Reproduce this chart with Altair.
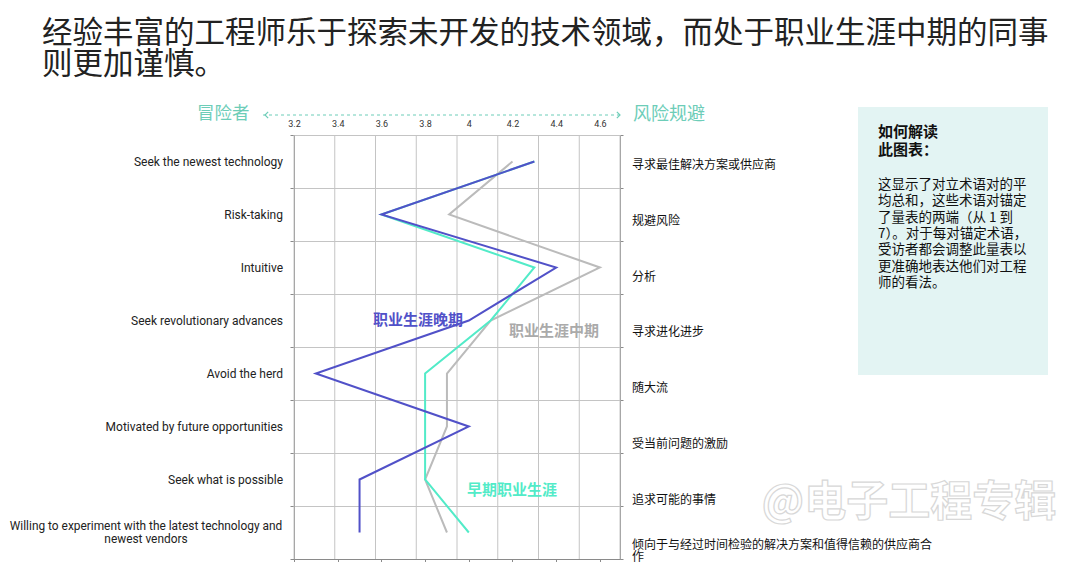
import altair as alt
import pandas as pd

# ---------------- data ----------------
categories = [
    "Seek the newest technology",
    "Risk-taking",
    "Intuitive",
    "Seek revolutionary advances",
    "Avoid the herd",
    "Motivated by future opportunities",
    "Seek what is possible",
    "Willing to experiment with the latest technology and newest vendors",
]
right_labels = [
    "寻求最佳解决方案或供应商",
    "规避风险",
    "分析",
    "寻求进化进步",
    "随大流",
    "受当前问题的激励",
    "追求可能的事情",
    "倾向于与经过时间检验的解决方案和值得信赖的供应商合\n作",
]
late_career = [4.30, 3.60, 4.40, 4.00, 3.30, 4.00, 3.50, 3.50]
mid_career = [4.20, 3.91, 4.60, 4.10, 3.90, 3.90, 3.80, 3.90]
early_career = [4.30, 3.60, 4.30, 4.10, 3.80, 3.80, 3.80, 4.00]
x_ticks = [3.2, 3.4, 3.6, 3.8, 4.0, 4.2, 4.4, 4.6]

title_lines = ["经验丰富的工程师乐于探索未开发的技术领域，而处于职业生涯中期的同事", "则更加谨慎。"]
info_title = ["如何解读", "此图表："]
info_body = [
    "这显示了对立术语对的平",
    "均总和，这些术语对锚定",
    "了量表的两端（从 1 到",
    "7）。对于每对锚定术语，",
    "受访者都会调整此量表以",
    "更准确地表达他们对工程",
    "师的看法。",
]

# ---------------- style ----------------
CJK = "Noto Sans CJK SC"
LAT = "Roboto"
PURPLE = "#5151C8"
TEAL = "#52EBC8"
GRAY = "#BBBBBB"
ACCENT = "#6DCDB8"
GRID = "#C4C4C4"
AXC = "#8A8A8A"

W, H = 326, 424
X_MIN, X_MAX = 3.2, 4.692

xscale = alt.Scale(domain=[X_MIN, X_MAX], nice=False, zero=False)
yscale = alt.Scale(type="band", domain=categories, paddingInner=0, paddingOuter=0)

top_axis = alt.Axis(orient="top", values=x_ticks, format=".1~f", ticks=False, domain=False,
                    grid=False, labelFont=LAT, labelFontSize=9, labelColor="#333",
                    labelPadding=7, labelFlush=False, title=None)
bottom_axis = alt.Axis(orient="bottom", values=x_ticks, labels=False, ticks=True, tickSize=4,
                       tickColor=AXC, domain=True, domainColor=AXC, grid=False, title=None)
left_axis = alt.Axis(orient="left", labels=False, tickBand="extent", ticks=True, tickSize=4,
                     tickColor=AXC, domainColor=AXC, grid=True, gridColor=GRID, title=None)
right_axis = alt.Axis(orient="right", labels=False, tickBand="extent", ticks=True, tickSize=3,
                      tickColor=AXC, domainColor=AXC, grid=False, title=None)

one = pd.DataFrame({"k": [0]})


def note(text, x, y, **kw):
    return alt.Chart(one).mark_text(text=text, **kw).encode(x=alt.value(x), y=alt.value(y))


layers = []

# vertical grid lines (8 equal columns across the plot)
grid_df = pd.DataFrame({"gx": [X_MIN + k * (X_MAX - X_MIN) / 8 for k in range(9)]})
layers.append(
    alt.Chart(grid_df).mark_rule(color=GRID, strokeWidth=1).encode(
        x=alt.X("gx:Q", scale=xscale, axis=bottom_axis)
    )
)

cat_df = pd.DataFrame({"cat": categories, "idx": list(range(len(categories)))})

# right axis ticks
layers.append(
    alt.Chart(cat_df).mark_point(opacity=0).encode(
        y=alt.Y("cat:N", scale=yscale, axis=right_axis)
    )
)

# lines
series = [("职业生涯中期", mid_career, GRAY), ("早期职业生涯", early_career, TEAL),
          ("职业生涯晚期", late_career, PURPLE)]
for i, (name, vals, col) in enumerate(series):
    df = pd.DataFrame({"cat": categories, "idx": list(range(len(categories))), "value": vals,
                       "series": name})
    layers.append(
        alt.Chart(df).mark_line(color=col, strokeWidth=2).encode(
            x=alt.X("value:Q", scale=xscale, axis=top_axis if i == 0 else None),
            y=alt.Y("cat:N", scale=yscale, axis=left_axis if i == 0 else None),
            order="idx:Q",
        )
    )

# series labels
layers.append(note("职业生涯晚期", 169, 185, font=CJK, fontSize=15, fontWeight="bold",
                   color=PURPLE, align="right", baseline="middle"))
layers.append(note("职业生涯中期", 215, 196, font=CJK, fontSize=15, fontWeight="bold",
                   color="#AAAAAA", align="left", baseline="middle"))
layers.append(note("早期职业生涯", 173, 355, font=CJK, fontSize=15, fontWeight="bold",
                   color=TEAL, align="left", baseline="middle"))

# left labels
left_df = cat_df.iloc[:-1]
layers.append(
    alt.Chart(left_df).mark_text(font=LAT, fontSize=12, color="#222", align="right",
                                 baseline="middle").encode(
        x=alt.value(-11), y=alt.Y("cat:N", scale=yscale, axis=None), text="cat:N"
    )
)
last_df = cat_df.iloc[-1:].assign(disp=lambda d: d["cat"].str.replace(" and ", " and\n"))
layers.append(
    alt.Chart(last_df).mark_text(font=LAT, fontSize=11.9, color="#222", align="center",
                                 baseline="middle", lineBreak="\n", lineHeight=13.5,
                                 dy=-7).encode(
        x=alt.value(-148), y=alt.Y("cat:N", scale=yscale, axis=None), text="disp:N"
    )
)

# right labels (own vertical spacing)
right_df = pd.DataFrame({"ri": list(range(len(right_labels))), "txt": right_labels})
ry = alt.Y("ri:Q", scale=alt.Scale(domain=[0, 7], range=[30, 420.6], nice=False, zero=False),
           axis=None)
layers.append(
    alt.Chart(right_df.iloc[:-1]).mark_text(font=CJK, fontSize=12, color="#111", align="left",
                                            baseline="middle").encode(
        x=alt.value(338), y=ry, text="txt:N"
    )
)
layers.append(
    alt.Chart(right_df.iloc[-1:]).mark_text(font=CJK, fontSize=12, color="#111", align="left",
                                            baseline="middle", lineBreak="\n", lineHeight=12.5,
                                            dy=-11).encode(
        x=alt.value(338), y=ry, text="txt:N"
    )
)

# title
layers.append(note(title_lines[0], -252, -101, font=CJK, fontSize=30.5, color="#222",
                   align="left", baseline="middle"))
layers.append(note(title_lines[1], -252, -70, font=CJK, fontSize=30.5, color="#222",
                   align="left", baseline="middle"))

# risk header
layers.append(note("冒险者", -97, -21, font=CJK, fontSize=17.5, color=ACCENT, align="left",
                   baseline="middle"))
layers.append(note("风险规避", 339, -20, font=CJK, fontSize=18, color=ACCENT, align="left",
                   baseline="middle"))
layers.append(
    alt.Chart(one).mark_rule(color=ACCENT, strokeWidth=1, strokeDash=[3, 3]).encode(
        x=alt.value(-31), x2=alt.value(327), y=alt.value(-20)
    )
)
layers.append(
    alt.Chart(one).mark_point(shape="M1,-1L0,0L1,1", filled=False, size=40, color=ACCENT,
                              strokeWidth=1.2, opacity=1).encode(x=alt.value(-29), y=alt.value(-20))
)
layers.append(
    alt.Chart(one).mark_point(shape="M-1,-1L0,0L-1,1", filled=False, size=40, color=ACCENT,
                              strokeWidth=1.2, opacity=1).encode(x=alt.value(326), y=alt.value(-20))
)

# info box
layers.append(
    alt.Chart(one).mark_rect(color="#E3F4F3").encode(
        x=alt.value(564), x2=alt.value(754), y=alt.value(-28), y2=alt.value(240)
    )
)
for i, t in enumerate(info_title):
    layers.append(note(t, 584, -3 + i * 18, font=CJK, fontSize=15, fontWeight="bold",
                       color="#111", align="left", baseline="middle"))
for i, t in enumerate(info_body):
    layers.append(note(t, 584, 50 + i * 16.3, font=CJK, fontSize=13.5, color="#111",
                       align="left", baseline="middle"))

# watermark
layers.append(note("@电子工程专辑", 615, 368, font=CJK, fontSize=42, fontWeight="bold",
                   fill="#FFFFFF", stroke="#D6D6D6", strokeWidth=1.2, align="center",
                   baseline="middle", opacity=0.95))

chart = (
    alt.layer(*layers)
    .resolve_scale(y="independent")
    .resolve_axis(x="independent", y="independent")
    .properties(
        width=W,
        height=H,
        autosize=alt.AutoSizeParams(type="none"),
        padding={"left": 286, "top": 127, "right": 443, "bottom": 3},
        background="white",
    )
    .configure_view(stroke=None)
)

chart.save("out.html", embed_options={"renderer": "svg", "actions": False})
